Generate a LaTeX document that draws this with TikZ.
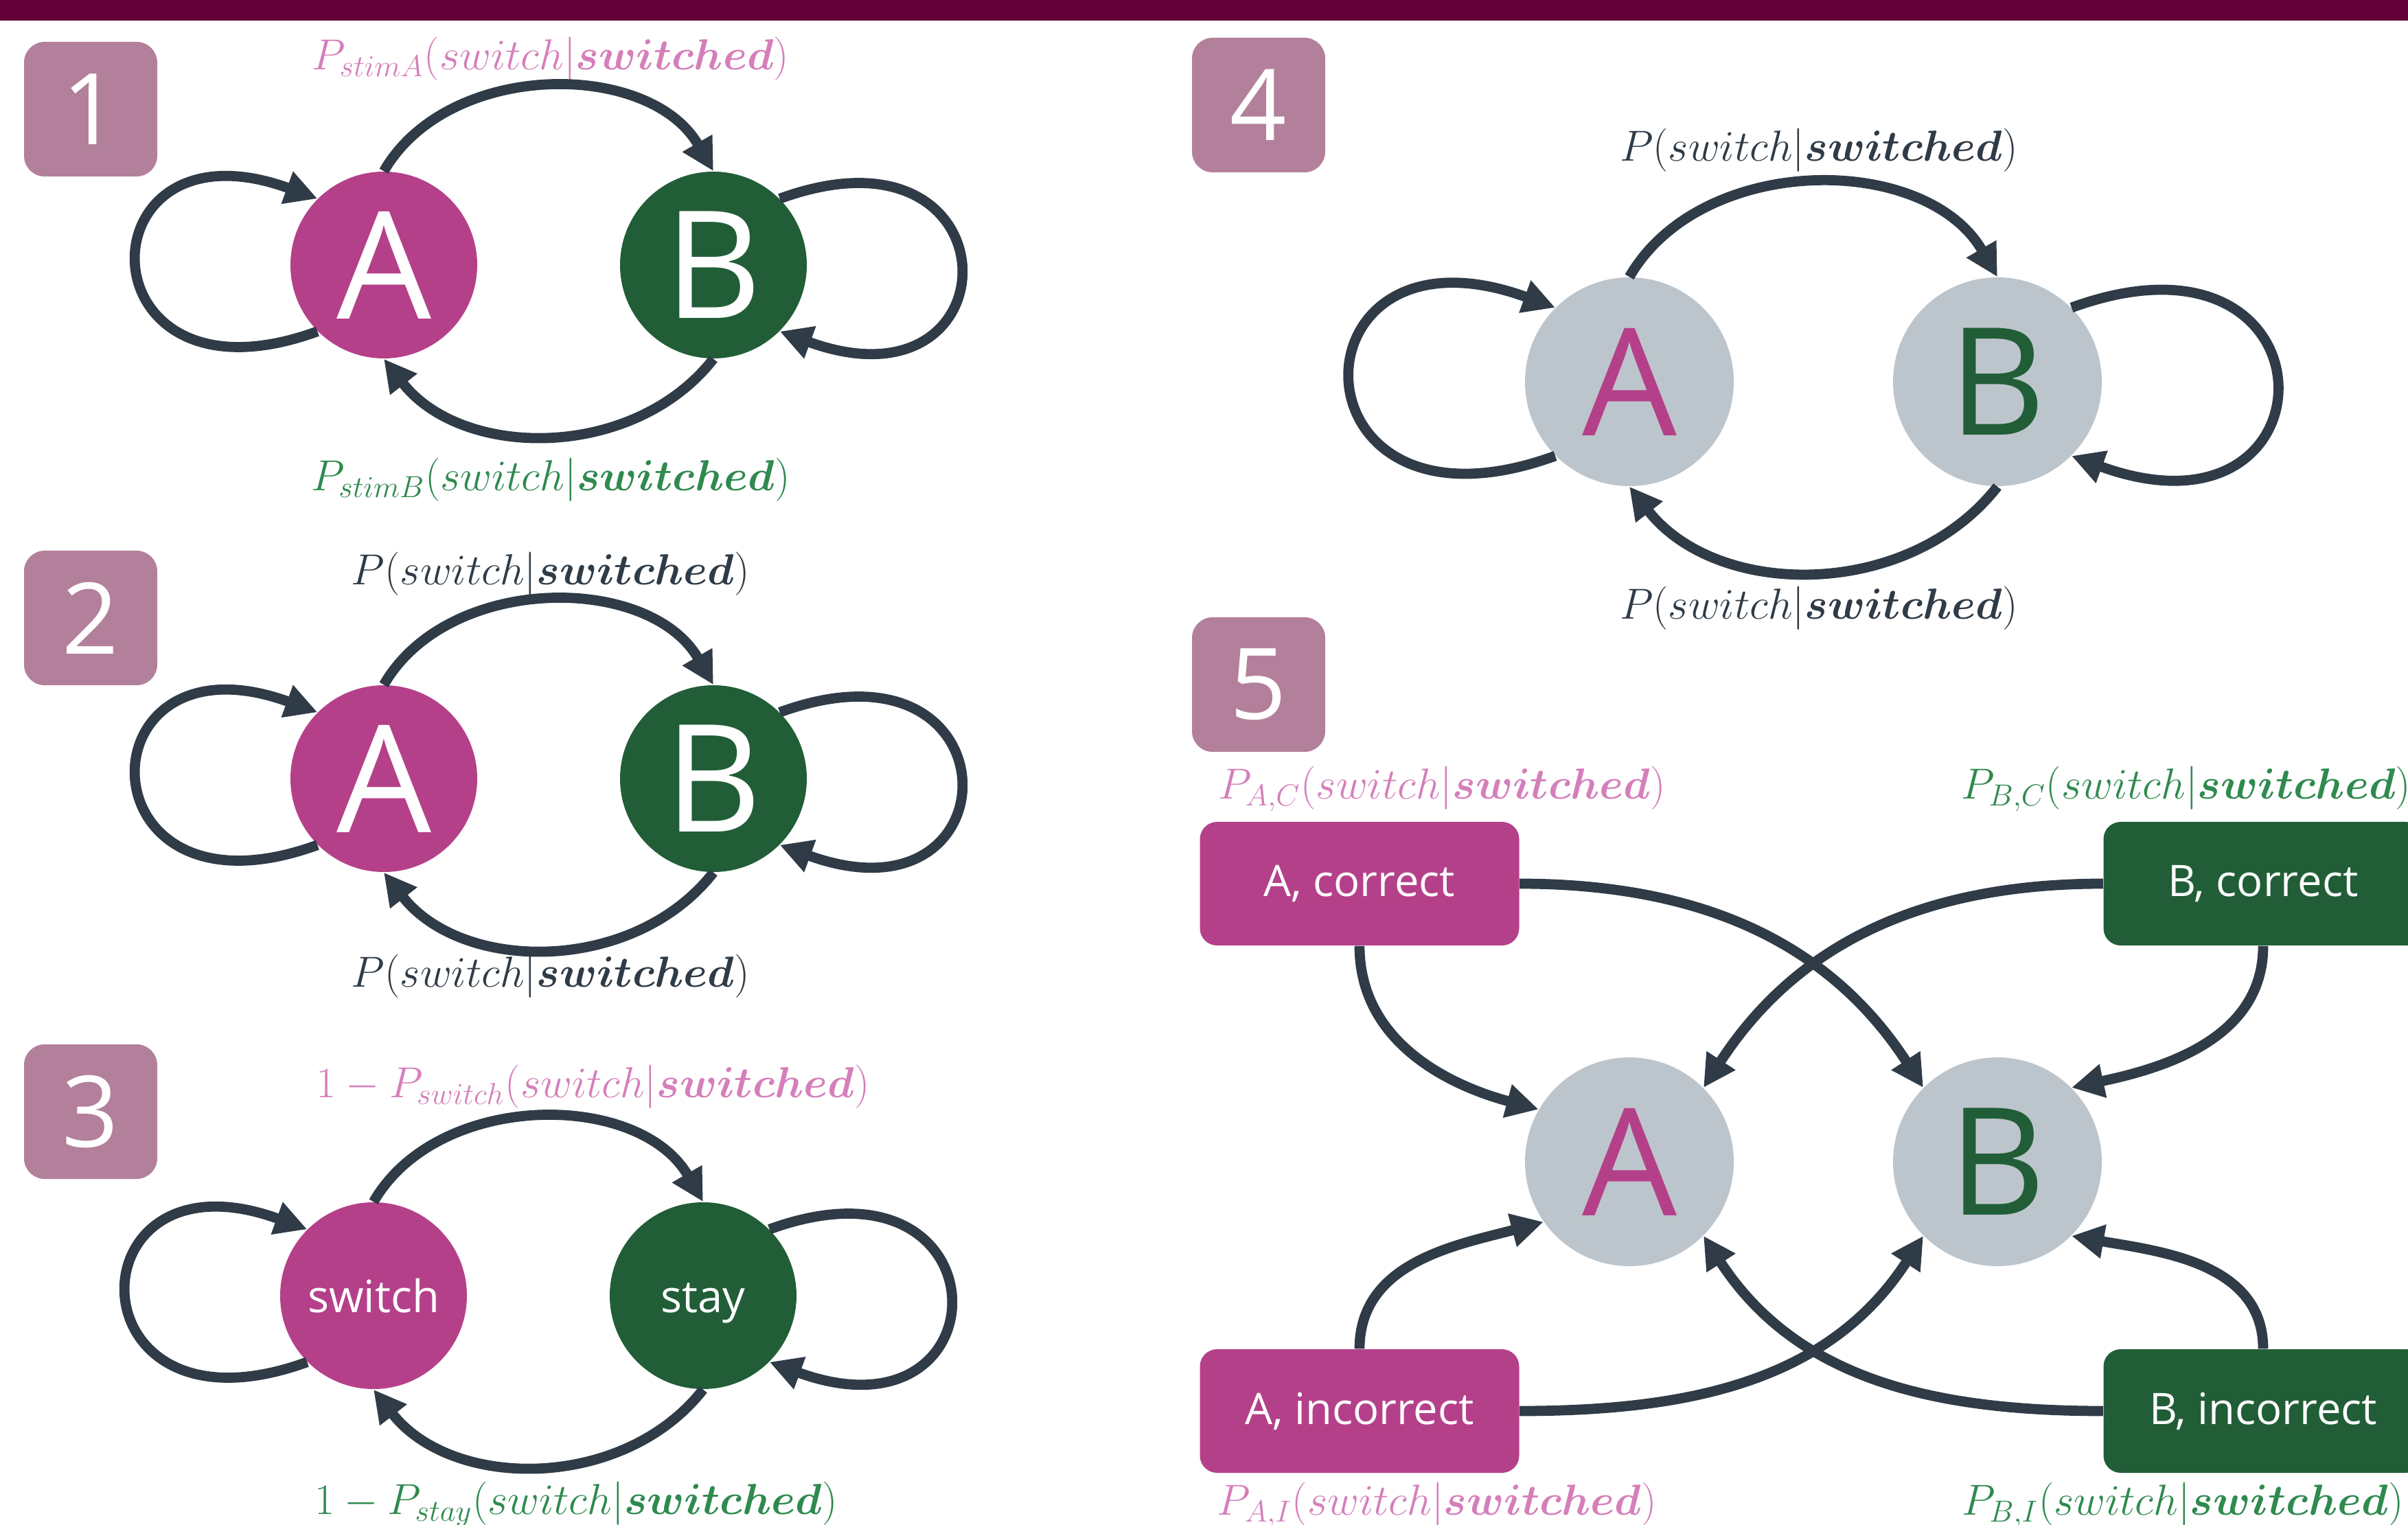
\RequirePackage{fix-cm}
\documentclass[tikz,border=0pt]{standalone}
\usepackage{fontspec}
\setmainfont{Open Sans}
\usepackage{amsmath}
\usepackage{bm}
\usepackage{tikz}
\usetikzlibrary{arrows.meta, positioning}

\definecolor{barcol}{RGB}{99,0,57}
\definecolor{badgecol}{RGB}{179,128,155}
\definecolor{edgecol}{RGB}{47,59,70}
\definecolor{acol}{RGB}{181,64,138}
\definecolor{bcol}{RGB}{33,94,55}
\definecolor{greycol}{RGB}{189,197,204}
\definecolor{pinkcol}{RGB}{213,127,186}
\definecolor{greencol}{RGB}{47,138,79}

\tikzstyle{state} = [circle, minimum size=2.72cm, inner sep=0pt, text=white, font=\fontsize{62}{62}\selectfont]
\tikzstyle{cell} = [circle, minimum size=3.04cm, inner sep=0pt, fill=greycol, font=\fontsize{62}{62}\selectfont]
\tikzstyle{badge} = [rectangle, rounded corners=0.3cm, minimum width=1.94cm, minimum height=1.96cm, fill=badgecol, text=white, font=\fontsize{41}{41}\selectfont]
\tikzstyle{outcome} = [rectangle, rounded corners=0.25cm, minimum width=4.65cm, minimum height=1.8cm, text=white, font=\fontsize{18}{18}\selectfont]
\tikzstyle{prob} = [font=\fontsize{18}{18}\selectfont]
\tikzstyle{arrow} = [-{Triangle[length=4.7mm, width=4.7mm]}, line width=4.2pt, draw=edgecol]

\begin{document}
\begin{tikzpicture}[node distance=4.8cm]

    \useasboundingbox (0, 0) rectangle (35.07, -22.21);
    \fill [barcol] (0, 0) rectangle (35.07, -0.3);

    \node (num1) [badge] at (1.32, -1.59) {1};
    \node (num2) [badge] at (1.32, -9.0) {2};
    \node (num3) [badge] at (1.32, -16.19) {3};
    \node (num4) [badge] at (18.33, -1.53) {4};
    \node (num5) [badge] at (18.33, -9.97) {5};

    \node (A1) [state, fill=acol] at (5.59, -3.86) {A};
    \node (B1) [state, fill=bcol, right of=A1] {B};
    \node (p1top) [prob, text=pinkcol] at (8.02, -0.86) {$P_{stimA}(switch|\bm{switched})$};
    \node (p1bot) [prob, text=greencol] at (8.02, -6.99) {$P_{stimB}(switch|\bm{switched})$};

    \draw [arrow] (A1.north) to[out=60, in=120] (B1.north);
    \draw [arrow] (B1.south) to[out=-128, in=-52] (A1.south);
    \draw [arrow] (A1.-135) .. controls +(200:3.7) and +(160:3.7) .. (A1.135);
    \draw [arrow] (B1.45) .. controls +(20:3.7) and +(-20:3.7) .. (B1.-45);

    \node (A2) [state, fill=acol] at (5.59, -11.34) {A};
    \node (B2) [state, fill=bcol, right of=A2] {B};
    \node (p2top) [prob, text=edgecol] at (8.02, -8.36) {$P(switch|\bm{switched})$};
    \node (p2bot) [prob, text=edgecol] at (8.02, -14.22) {$P(switch|\bm{switched})$};

    \draw [arrow] (A2.north) to[out=60, in=120] (B2.north);
    \draw [arrow] (B2.south) to[out=-128, in=-52] (A2.south);
    \draw [arrow] (A2.-135) .. controls +(200:3.7) and +(160:3.7) .. (A2.135);
    \draw [arrow] (B2.45) .. controls +(20:3.7) and +(-20:3.7) .. (B2.-45);

    \node (switch3) [state, fill=acol, font=\fontsize{18.5}{18.5}\selectfont, text height=0.48cm, text depth=0cm] at (5.44, -18.87) {switch};
    \node (stay3) [state, fill=bcol, font=\fontsize{18.5}{18.5}\selectfont, text height=0.48cm, text depth=0cm, right of=switch3] {stay};
    \node (p3top) [prob, text=pinkcol] at (8.64, -15.83) {$1-P_{switch}(switch|\bm{switched})$};
    \node (p3bot) [prob, text=greencol] at (8.39, -21.91) {$1-P_{stay}(switch|\bm{switched})$};

    \draw [arrow] (switch3.north) to[out=60, in=120] (stay3.north);
    \draw [arrow] (stay3.south) to[out=-128, in=-52] (switch3.south);
    \draw [arrow] (switch3.-135) .. controls +(200:3.7) and +(160:3.7) .. (switch3.135);
    \draw [arrow] (stay3.45) .. controls +(20:3.7) and +(-20:3.7) .. (stay3.-45);

    \node (A4) [cell, text=acol] at (23.73, -5.56) {A};
    \node (B4) [cell, text=bcol, node distance=5.36cm, right of=A4] {B};
    \node (p4top) [prob, text=edgecol] at (26.49, -2.19) {$P(switch|\bm{switched})$};
    \node (p4bot) [prob, text=edgecol] at (26.49, -8.86) {$P(switch|\bm{switched})$};

    \draw [arrow] (A4.north) to[out=60, in=120] (B4.north);
    \draw [arrow] (B4.south) to[out=-128, in=-52] (A4.south);
    \draw [arrow] (A4.-135) .. controls +(200:4.2) and +(160:4.2) .. (A4.135);
    \draw [arrow] (B4.45) .. controls +(20:4.2) and +(-20:4.2) .. (B4.-45);

    \node (A5) [cell, text=acol] at (23.73, -16.92) {A};
    \node (B5) [cell, text=bcol, node distance=5.36cm, right of=A5] {B};
    \node (Acor) [outcome, fill=acol] at (19.80, -12.87) {A, correct};
    \node (Bcor) [outcome, fill=bcol] at (32.96, -12.87) {B, correct};
    \node (Ainc) [outcome, fill=acol] at (19.80, -20.55) {A, incorrect};
    \node (Binc) [outcome, fill=bcol] at (32.96, -20.55) {B, incorrect};
    \node (pAC) [prob, text=pinkcol] at (21.0, -11.49) {$P_{A,C}(switch|\bm{switched})$};
    \node (pBC) [prob, text=greencol] at (31.84, -11.49) {$P_{B,C}(switch|\bm{switched})$};
    \node (pAI) [prob, text=pinkcol] at (20.93, -21.92) {$P_{A,I}(switch|\bm{switched})$};
    \node (pBI) [prob, text=greencol] at (31.79, -21.92) {$P_{B,I}(switch|\bm{switched})$};

    \draw [arrow] (Acor.south) to[out=-90, in=165] (A5.150);
    \draw [arrow] (Acor.east) to[out=0, in=123] (B5.135);
    \draw [arrow] (Bcor.west) to[out=180, in=57] (A5.45);
    \draw [arrow] (Bcor.south) to[out=-90, in=12] (B5.45);
    \draw [arrow] (Ainc.north) to[out=90, in=195] (A5.-145);
    \draw [arrow] (Ainc.east) to[out=0, in=237] (B5.-135);
    \draw [arrow] (Binc.west) to[out=180, in=-57] (A5.-45);
    \draw [arrow] (Binc.north) to[out=90, in=-10] (B5.-45);

\end{tikzpicture}
\end{document}
